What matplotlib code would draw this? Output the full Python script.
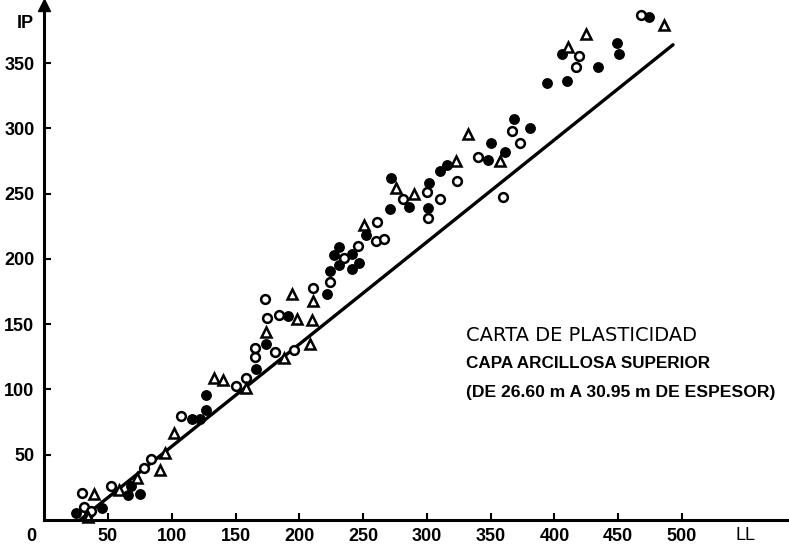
import matplotlib
matplotlib.use("Agg")
import matplotlib.pyplot as plt

# --- data (LL, IP) ---
filled_ll = [25, 35, 45, 66, 75, 68, 116, 122, 127, 127, 166, 174, 191, 222, 224, 231, 227, 231,
             241, 241, 247, 252, 271, 272, 286, 301, 302, 310, 316, 348, 350, 361, 368, 381, 394,
             406, 410, 434, 449, 451, 474]
filled_ip = [5, 5, 9, 19, 20, 26, 77, 77, 84, 96, 116, 135, 156, 173, 191, 195, 203, 209,
             204, 192, 197, 218, 238, 262, 240, 239, 258, 267, 272, 276, 289, 282, 307, 300, 335,
             357, 336, 347, 365, 357, 385]

open_ll = [30, 31, 37, 52, 78, 84, 107, 150, 158, 165, 165, 175, 173, 181, 184, 196, 211, 224,
           235, 246, 260, 266, 261, 281, 300, 301, 310, 324, 340, 360, 367, 373, 417, 419, 468]
open_ip = [21, 10, 7, 26, 40, 47, 80, 103, 109, 125, 132, 155, 169, 129, 157, 130, 178, 182,
           201, 210, 214, 215, 228, 246, 251, 231, 246, 260, 278, 247, 298, 289, 347, 355, 387]

tri_ll = [34, 39, 59, 73, 91, 95, 102, 133, 140, 158, 174, 188, 194, 198, 208, 210, 211, 251,
          276, 290, 323, 332, 357, 411, 425, 486]
tri_ip = [2, 20, 23, 32, 38, 51, 67, 109, 107, 101, 144, 124, 173, 154, 135, 153, 168, 226,
          254, 250, 275, 296, 275, 362, 372, 379]

line_ll = [28, 493]
line_ip = [0, 364]

x_ticks = [50, 100, 150, 200, 250, 300, 350, 400, 450, 500]
y_ticks = [50, 100, 150, 200, 250, 300, 350]

title_lines = ["CARTA DE PLASTICIDAD",
               "CAPA ARCILLOSA SUPERIOR",
               "(DE 26.60 m A 30.95 m DE ESPESOR)"]

plt.rcParams['font.family'] = ['Liberation Sans', 'DejaVu Sans']

fig = plt.figure(figsize=(7.89, 5.52), dpi=100)
ax = fig.add_axes([44.2 / 789, 32 / 552, (787 - 44.2) / 789, (520 - 5) / 552])
ax.set_xlim(0, (787 - 44.2) / 1.2756)
ax.set_ylim(0, (520 - 5) / 1.3057)

for s in ['top', 'right']:
    ax.spines[s].set_visible(False)
for s in ['left', 'bottom']:
    ax.spines[s].set_linewidth(2.2)
    ax.spines[s].set_color('black')

ax.set_xticks(x_ticks)
ax.set_yticks(y_ticks)
ax.set_xticklabels([str(v) for v in x_ticks])
ax.set_yticklabels([str(v) for v in y_ticks])
ax.tick_params(axis='both', direction='in', length=5, width=1.5, labelsize=13)
ax.tick_params(axis='x', pad=6)
ax.tick_params(axis='y', pad=7)
for lab in ax.get_xticklabels() + ax.get_yticklabels():
    lab.set_fontweight('bold')

# arrow at top of y axis
ax.plot([0], [1], marker='^', color='black', markersize=9, transform=ax.transAxes, clip_on=False)

# regression line
ax.plot(line_ll, line_ip, color='black', linewidth=2.4, solid_capstyle='round')

# points
ax.plot(filled_ll, filled_ip, linestyle='none', marker='o', markersize=6.8,
        markerfacecolor='black', markeredgecolor='black', clip_on=False)
ax.plot(open_ll, open_ip, linestyle='none', marker='o', markersize=6.3,
        markerfacecolor='white', markeredgecolor='black', markeredgewidth=1.8, clip_on=False)
ax.plot(tri_ll, tri_ip, linestyle='none', marker='^', markersize=7.5,
        markerfacecolor='white', markeredgecolor='black', markeredgewidth=1.8, clip_on=False)

# axis labels
ax.text(-15, 380, "IP", fontsize=13, fontweight='bold', ha='center', va='center', clip_on=False)
ax.text(549.5, -11.9, "LL", fontsize=13, fontweight='normal', ha='center', va='center', clip_on=False)
ax.text(-9.8, -12.5, "0", fontsize=13, fontweight='bold', ha='center', va='center', clip_on=False)

# annotation block
ax.text(330.7, 141.3, title_lines[0], fontsize=14, ha='left', va='center',
        family=['DejaVu Sans'])
ax.text(330.7, 119.9, title_lines[1], fontsize=12.3, fontweight='bold', ha='left', va='center')
ax.text(330.7, 97.7, title_lines[2], fontsize=12.6, fontweight='bold', ha='left', va='center')

fig.savefig("out.png", dpi=100)
